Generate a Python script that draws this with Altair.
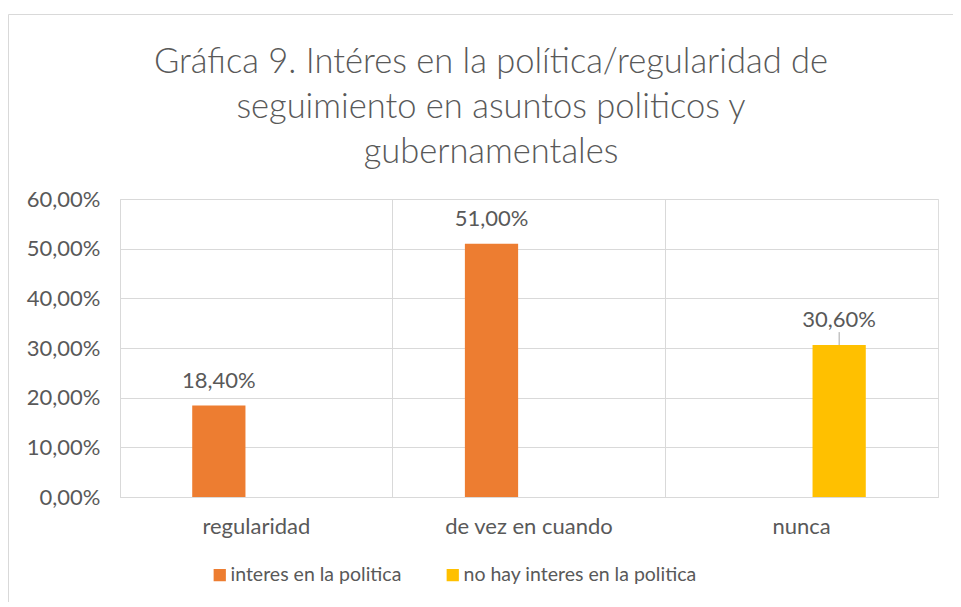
import altair as alt
import pandas as pd

categories = ["regularidad", "de vez en cuando", "nunca"]
series = ["interes en la politica", "interes en la politica", "no hay interes en la politica"]
values = [0.184, 0.51, 0.306]
series_names = ["interes en la politica", "no hay interes en la politica"]
colors = ["#ED7D31", "#FFC000"]
y_ticks = [0, 0.1, 0.2, 0.3, 0.4, 0.5, 0.6]
title_lines = ["Gráfica 9. Intéres en la política/regularidad de",
               "seguimiento en asuntos politicos y",
               "gubernamentales"]

df = pd.DataFrame({"cat": categories, "serie": series, "v": values})

FONT = "Lato"
GRAY = "#595959"
GRID = "#d9d9d9"
FS = 22

x_enc = alt.X("cat:N", sort=categories,
              scale=alt.Scale(paddingInner=0, paddingOuter=0),
              axis=alt.Axis(title=None, labelAngle=0, grid=True, bandPosition=0,
                            gridColor=GRID, ticks=False, domain=True, domainColor=GRID,
                            labelFontSize=FS, labelColor=GRAY, labelPadding=19,
                            labelFont=FONT))
xo_enc = alt.XOffset("serie:N", sort=series_names,
                     scale=alt.Scale(domain=series_names, paddingInner=0.29, paddingOuter=0.963))
y_enc = alt.Y("v:Q", scale=alt.Scale(domain=[0, 0.6], nice=False),
              axis=alt.Axis(title=None, values=y_ticks, grid=True, gridColor=GRID,
                            ticks=False, domain=False, labelFontSize=FS, labelColor=GRAY,
                            labelFont=FONT, labelPadding=20,
                            labelExpr="replace(format(datum.value, '.2%'), '.', ',')"))

base = alt.Chart(df).encode(x=x_enc, xOffset=xo_enc)

bars = base.mark_bar().encode(
    y=y_enc,
    color=alt.Color("serie:N", scale=alt.Scale(domain=series_names, range=colors),
                    legend=alt.Legend(title=None, orient="none", legendX=90, legendY=366,
                                      direction="horizontal", symbolType="square",
                                      symbolSize=150, symbolStrokeWidth=0,
                                      labelFontSize=19.5, labelColor=GRAY, labelFont=FONT,
                                      labelLimit=0, columnPadding=41, labelOffset=1)),
)

labels = base.transform_calculate(
    lbl="replace(format(datum.v, '.2%'), '.', ',')"
).mark_text(dy=-25, fontSize=FS, color=GRAY, font=FONT, baseline="middle").encode(
    y=alt.Y("v:Q"), text="lbl:N")

leader = base.transform_filter("datum.cat == 'nunca'").transform_calculate(
    top="datum.v + 0.026"
).mark_rule(color="#a6a6a6", strokeWidth=1).encode(y=alt.Y("v:Q"), y2="top:Q")

frame = alt.Chart(pd.DataFrame({"a": [0]})).mark_rect(
    filled=False, stroke=GRID, strokeWidth=1, clip=False
).encode(x=alt.value(-111.5), x2=alt.value(900), y=alt.value(-184.5), y2=alt.value(430))

chart = alt.layer(bars, leader, labels, frame).properties(
    width=818, height=298,
    autosize=alt.AutoSizeParams(type="none"),
    padding={"left": 112, "top": 191, "right": 15, "bottom": 105},
    title=alt.TitleParams(text=title_lines, fontSize=34.5, font=FONT, fontWeight=300,
                          color=GRAY, lineHeight=45, offset=35, dx=-38, dy=191.5,
                          anchor="middle", frame="group"),
).configure_view(fill="#f0f0f0", stroke=GRID).configure(background="white")

chart.save("out.html", embed_options={"renderer": "svg", "actions": False})
